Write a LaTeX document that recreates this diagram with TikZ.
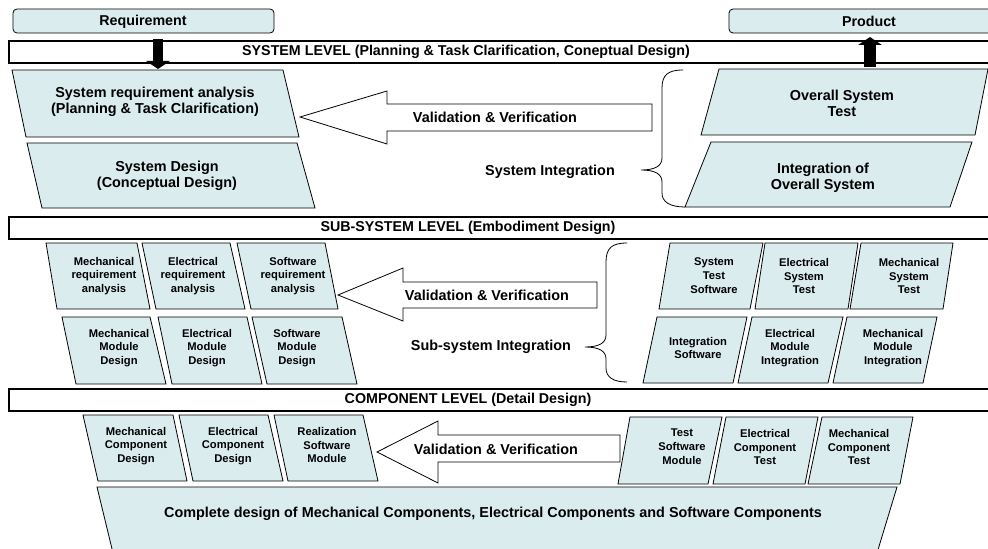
\documentclass[tikz,border=0pt]{standalone}
\usepackage{fontspec}
\setmainfont{Liberation Sans}
\usetikzlibrary{arrows.meta}
\definecolor{boxfill}{RGB}{218,236,238}

\begin{document}
\begin{tikzpicture}[x=0.75pt,y=0.75pt,yscale=-1,xscale=1,
    pbox/.style={draw=black, fill=boxfill, line width=0.6pt},
    rbox/.style={draw=black, fill=boxfill, line width=0.6pt, rounded corners=3pt},
    bar/.style={draw=black, fill=white, line width=1.1pt},
    vv/.style={draw=black, fill=white, line width=0.6pt},
    brc/.style={draw=black, line width=0.6pt},
    blk/.style={draw=black, fill=black, -{Triangle[width=17.5pt,length=6pt]}},
    btxt/.style={font=\bfseries\fontsize{10.8}{12}\selectfont, align=center, inner sep=0.75pt},
    stxt/.style={font=\bfseries\fontsize{8.4}{10.4}\selectfont, align=center, inner sep=0.75pt},
    ltxt/.style={font=\bfseries\fontsize{10.7}{12}\selectfont, inner sep=0.75pt}]
                \path[use as bounding box] (0,0) rectangle (988,549);

                %Shape: Rounded Rect (Requirement, Product)
                \draw[rbox] (13,9) rectangle (274,33);
                \draw (143,22) node [ltxt] (req) {Requirement};
                \draw[rbox] (729,9) rectangle (1010,33);
                \draw (869,21) node [ltxt] (prod) {Product};

                %Shape: Rectangle (level bars)
                \draw[bar] (9,41) rectangle (1000,63);
                \draw (466,52) node [ltxt] (syslvl) {SYSTEM LEVEL (Planning \& Task Clarification, Coneptual Design)};
                \draw[bar] (9,217) rectangle (1000,239);
                \draw (468,228) node [ltxt] (sublvl) {SUB-SYSTEM LEVEL (Embodiment Design)};
                \draw[bar] (9,389) rectangle (1000,411);
                \draw (468,400) node [ltxt] (complvl) {COMPONENT LEVEL (Detail Design)};

                %Block Arrows (in and out)
                \coordinate (reqa) at (158,39);
                \coordinate (reqb) at (158,69);
                \draw[blk, line width=7.5pt] (reqa) -- (reqb);
                \coordinate (proda) at (870,67);
                \coordinate (prodb) at (870,37);
                \draw[blk, line width=9pt] (proda) -- (prodb);

                %Shape: Parallelogram (system level)
                \draw[pbox] (12,70) -- (283,70) -- (299,137) -- (26,137) -- cycle;
                \draw[pbox] (27,143) -- (297,143) -- (315,208) -- (42,208) -- cycle;
                \draw[pbox] (719,69) -- (988,69) -- (975,135) -- (701,135) -- cycle;
                \draw[pbox] (711,142) -- (972,142) -- (950,207) -- (685,207) -- cycle;

                % Text Node
                \draw (155,102) node [btxt] (sra) {System requirement analysis\\(Planning \& Task Clarification)};
                \draw (167,176) node [btxt] (sd) {System Design\\(Conceptual Design)};
                \draw (842,103) node [btxt] (ost) {Overall System\\Test};
                \draw (823,178) node [btxt] (ios) {Integration of\\Overall System};

                %Shape: Block Arrow (system level)
                \draw[vv] (300,117) -- (387,91) -- (387,104) -- (652,104) -- (652,131) -- (387,131) -- (387,144) -- cycle;
                \draw (495,117) node [btxt] (vvsys) {Validation \& Verification};
                %Brace
                \draw[brc] (683,70) .. controls (668,70) and (662,75) .. (662,88) -- (662,158) .. controls (662,166) and (655,170) .. (641,170) .. controls (655,170) and (662,174) .. (662,182) -- (662,193) .. controls (662,202) and (670,207) .. (685,207);
                \draw (550,172) node [btxt] (sysint) {System Integration};

                %Shape: Parallelogram (sub-system level)
                \draw[pbox] (46,243) -- (137,243) -- (150,309) -- (57,309) -- cycle;
                \draw[pbox] (142,243) -- (230,243) -- (245,309) -- (156,309) -- cycle;
                \draw[pbox] (237,243) -- (325,243) -- (338,309) -- (251,309) -- cycle;
                \draw[pbox] (62,317) -- (150,317) -- (166,384) -- (76,384) -- cycle;
                \draw[pbox] (158,317) -- (247,317) -- (262,384) -- (172,384) -- cycle;
                \draw[pbox] (252,317) -- (342,317) -- (357,384) -- (267,384) -- cycle;
                \draw[pbox] (670,243) -- (763,243) -- (750,309) -- (659,309) -- cycle;
                \draw[pbox] (765,243) -- (858,243) -- (848,309) -- (755,309) -- cycle;
                \draw[pbox] (861,243) -- (953,243) -- (943,309) -- (850,309) -- cycle;
                \draw[pbox] (657,317) -- (747,317) -- (733,383) -- (643,383) -- cycle;
                \draw[pbox] (752,317) -- (843,317) -- (828,383) -- (738,383) -- cycle;
                \draw[pbox] (847,317) -- (937,317) -- (923,383) -- (833,383) -- cycle;

                % Text Node
                \draw (104,276) node [stxt] (mra) {Mechanical\\requirement\\analysis};
                \draw (193,276) node [stxt] (era) {Electrical\\requirement\\analysis};
                \draw (293,276) node [stxt] (swra) {Software\\requirement\\analysis};
                \draw (119,348) node [stxt] (mmd) {Mechanical\\Module\\Design};
                \draw (207,348) node [stxt] (emd) {Electrical\\Module\\Design};
                \draw (297,348) node [stxt] (smd) {Software\\Module\\Design};
                \draw (714,276) node [stxt] (sts) {System\\Test\\Software};
                \draw (804,276) node [stxt] (est) {Electrical\\System\\Test};
                \draw (909,276) node [stxt] (mst) {Mechanical\\System\\Test};
                \draw (698,348) node [stxt] (isw) {Integration\\Software};
                \draw (790,348) node [stxt] (emi) {Electrical\\Module\\Integration};
                \draw (893,348) node [stxt] (mmi) {Mechanical\\Module\\Integration};

                %Shape: Block Arrow (sub-system level)
                \draw[vv] (338,295) -- (403,268) -- (403,282) -- (597,282) -- (597,308) -- (403,308) -- (403,321) -- cycle;
                \draw (487,295) node [btxt] (vvsub) {Validation \& Verification};
                %Brace
                \draw[brc] (627,243) .. controls (612,243) and (606,248) .. (606,262) -- (606,335) .. controls (606,343) and (599,347) .. (585,347) .. controls (599,347) and (606,351) .. (606,359) -- (606,368) .. controls (606,377) and (613,382) .. (627,382);
                \draw (491,347) node [btxt] (subint) {Sub-system Integration};

                %Shape: Parallelogram (component level)
                \draw[pbox] (83,415) -- (173,415) -- (187,481) -- (98,481) -- cycle;
                \draw[pbox] (179,415) -- (268,415) -- (283,481) -- (193,481) -- cycle;
                \draw[pbox] (274,415) -- (363,415) -- (378,481) -- (288,481) -- cycle;
                \draw[pbox] (630,417) -- (722,417) -- (708,484) -- (618,484) -- cycle;
                \draw[pbox] (726,417) -- (818,417) -- (805,484) -- (713,484) -- cycle;
                \draw[pbox] (822,417) -- (913,417) -- (900,484) -- (808,484) -- cycle;
                \draw[pbox] (97,487) -- (897,487) -- (877,553) -- (113,553) -- cycle;

                % Text Node
                \draw (136,446) node [stxt] (mcd) {Mechanical\\Component\\Design};
                \draw (233,446) node [stxt] (ecd) {Electrical\\Component\\Design};
                \draw (327,445) node [stxt] (rsm) {Realization\\Software\\Module};
                \draw (682,447) node [stxt] (tsm) {Test\\Software\\Module};
                \draw (765,447) node [stxt] (ect) {Electrical\\Component\\Test};
                \draw (859,447) node [stxt] (mct) {Mechanical\\Component\\Test};
                \draw (493,514) node [btxt] (cdall) {Complete design of Mechanical Components, Electrical Components and Software Components};

                %Shape: Block Arrow (component level)
                \draw[vv] (377,452) -- (438,421) -- (438,435) -- (620,435) -- (620,462) -- (438,462) -- (438,483) -- cycle;
                \draw (496,449) node [btxt] (vvcomp) {Validation \& Verification};

            \end{tikzpicture}
\end{document}
